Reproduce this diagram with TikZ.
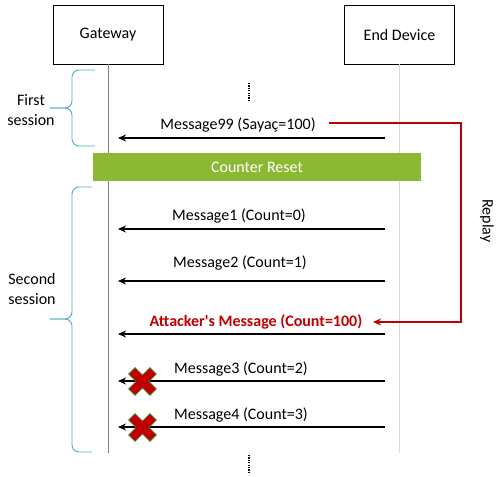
\documentclass[tikz,border=0pt]{standalone}
\usepackage{fontspec}
\setmainfont{Carlito}
\usepackage{tikz}
\usetikzlibrary{arrows.meta,calc}
\definecolor{resetgreen}{RGB}{140,184,50}
\definecolor{attackred}{RGB}{192,0,0}
\definecolor{bracecyan}{RGB}{75,172,198}
\definecolor{xred}{RGB}{192,0,0}
\definecolor{xgreen}{RGB}{79,120,40}
\tikzset{
  actor/.style={draw, line width=0.8pt, minimum width=110pt, minimum height=59pt, font=\fontsize{16}{19}\selectfont},
  lifeline/.style={line width=1pt},
  msg/.style={line width=1.5pt, -{Stealth[length=8pt,width=7pt]}},
  msgtext/.style={font=\fontsize{16}{19}\selectfont, inner sep=0pt},
  session/.style={bracecyan, line width=0.9pt, rounded corners=7pt},
  gap/.style={line width=1.6pt, dash pattern=on 1.2pt off 1.2pt},
  replayline/.style={attackred, line width=2pt, -{Stealth[length=8pt,width=7pt]}},
  nogo/.pic={
    \path[fill=xred, draw=xgreen, line width=0.8pt, rotate=45]
      (4.5,15) -- (4.5,4.5) -- (15,4.5) -- (15,-4.5) -- (4.5,-4.5) -- (4.5,-15)
      -- (-4.5,-15) -- (-4.5,-4.5) -- (-15,-4.5) -- (-15,4.5) -- (-4.5,4.5) -- (-4.5,15) -- cycle;
  }
}

\begin{document}
\begin{tikzpicture}[x=1pt,y=-1pt]
\useasboundingbox (0,0) rectangle (496,477);

\node[actor] (gw) at (108,34.5) {Gateway};
\node[actor] (ed) at (399.5,34.5) {End Device};
\coordinate (gwend) at (108,453);
\coordinate (edend) at (399,453);
\draw[lifeline, gray] (gw.south) -- (gwend);
\draw[lifeline, black!15] (399,64) -- (edend);

\coordinate (dotsA) at (249,83);
\coordinate (dotsB) at (249,100);
\draw[gap] (dotsA) -- (dotsB);
\coordinate (dotsC) at (249,455);
\coordinate (dotsD) at (249,472);
\draw[gap] (dotsC) -- (dotsD);

\draw[session] (95,70) -| (72,108) -- (50,108);
\draw[session] (50,108) -- (72,108) |- (95,146);
\node[msgtext, align=center, font=\fontsize{16}{20}\selectfont] (first) at (31,110) {First\\session};

\draw[session] (92,187) -| (72,319) -- (50,319);
\draw[session] (50,319) -- (72,319) |- (92,452);
\node[msgtext, align=center, font=\fontsize{16}{20}\selectfont] (second) at (32,289) {Second\\session};

\node[msgtext] (m99) at (238,125) {Message99 (Sayaç=100)};
\coordinate (m99s) at (385,138);
\coordinate (m99e) at (118,138);
\draw[msg] (m99s) -- (m99e);

\node[fill=resetgreen, minimum width=328pt, minimum height=28pt, text=white, font=\fontsize{16}{19}\selectfont] (reset) at (257,167) {Counter Reset};

\node[msgtext] (m1) at (239,216) {Message1 (Count=0)};
\coordinate (m1s) at (385,229);
\coordinate (m1e) at (118,229);
\draw[msg] (m1s) -- (m1e);

\node[msgtext] (m2) at (240,263) {Message2 (Count=1)};
\coordinate (m2s) at (385,281);
\coordinate (m2e) at (118,281);
\draw[msg] (m2s) -- (m2e);

\node[msgtext, text=attackred, font=\bfseries\fontsize{16}{19}\selectfont] (att) at (256,322) {Attacker\textquotesingle s Message (Count=100)};
\coordinate (atts) at (385,334);
\coordinate (atte) at (118,334);
\draw[msg] (atts) -- (atte);

\node[msgtext] (m3) at (241,369) {Message3 (Count=2)};
\coordinate (m3s) at (385,381);
\coordinate (m3e) at (118,381);
\draw[msg] (m3s) -- (m3e);
\pic (x3) at (142.5,381.5) {nogo};

\node[msgtext] (m4) at (241,415) {Message4 (Count=3)};
\coordinate (m4s) at (385,427);
\coordinate (m4e) at (118,427);
\draw[msg] (m4s) -- (m4e);
\pic (x4) at (142.5,427.5) {nogo};

\coordinate (r0) at (329,123);
\coordinate (r1) at (373,322);
\draw[replayline] (r0) -- ++(132,0) |- (r1);
\node[msgtext, rotate=-90] (replay) at (487,221) {Replay};
\end{tikzpicture}
\end{document}
